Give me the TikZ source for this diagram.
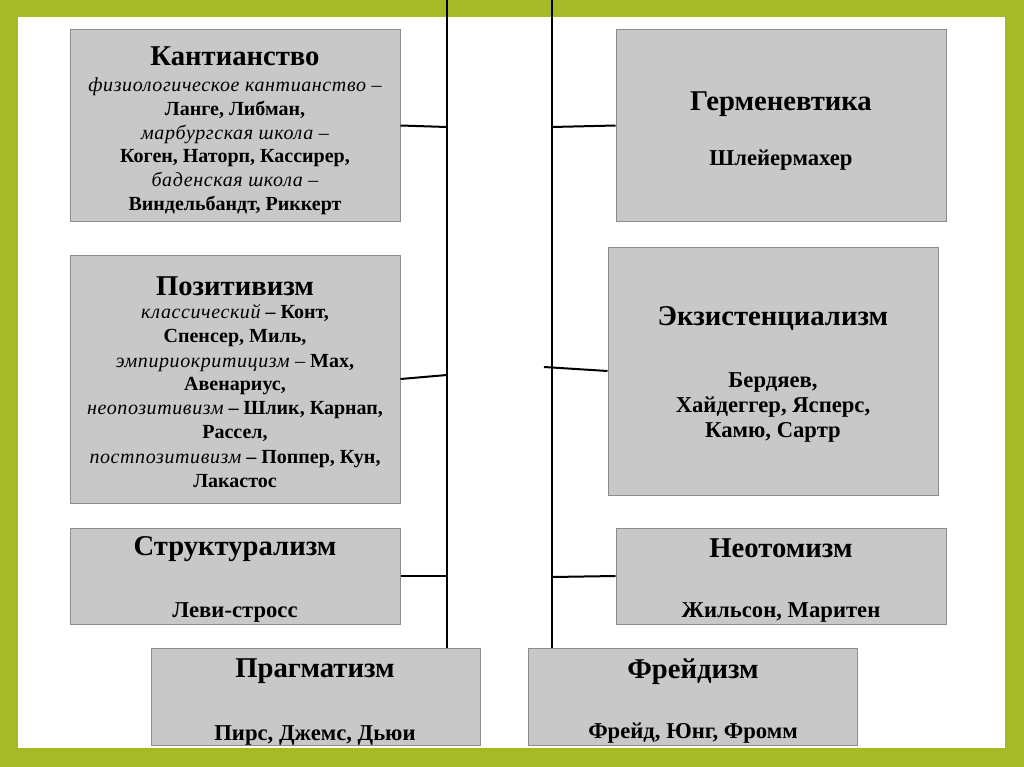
\documentclass[tikz,border=0pt]{standalone}
\usepackage{fontspec}
\setmainfont{Liberation Serif}
\newfontfamily\itfam[LetterSpace=3]{Liberation Serif}
\usetikzlibrary{fit}
\definecolor{framegreen}{RGB}{166,186,40}
\definecolor{boxfill}{RGB}{200,200,200}
\definecolor{boxline}{RGB}{140,140,140}
\tikzset{
  box/.style={draw=boxline, fill=boxfill, line width=0.75pt, inner sep=0pt},
  ttl/.style={anchor=base, inner sep=0pt, font=\fontsize{21.5}{25}\selectfont\bfseries},
  nmA/.style={anchor=base, inner sep=0pt, font=\fontsize{15}{18}\selectfont\bfseries},
  nmC/.style={anchor=base, inner sep=0pt, font=\fontsize{17}{20}\selectfont\bfseries},
  conn/.style={line width=1.5pt, black}
}
\newcommand{\itl}[1]{{\itfam\mdseries\itshape #1}}
\begin{document}
\begin{tikzpicture}[x=0.75pt, y=-0.75pt]
\useasboundingbox (0,0) rectangle (1024,767);
\fill[framegreen] (0,0) rectangle (1024,767);
\fill[white] (18,17) rectangle (1005,748);

% boxes
\node[box, fit={(70,30)(400,221)}] (kant) {};
\node[box, fit={(70,255)(400,503)}] (pos) {};
\node[box, fit={(70,528)(400,624)}] (str) {};
\node[box, fit={(151,648)(480,745)}] (prag) {};
\node[box, fit={(616,30)(946,221)}] (herm) {};
\node[box, fit={(608,247)(938,495)}] (exi) {};
\node[box, fit={(616,528)(946,624)}] (neo) {};
\node[box, fit={(528,648)(857,745)}] (freud) {};

% vertical lines
\coordinate (vl) at (447,0);
\coordinate (vr) at (552,0);
\draw[conn] (vl) -- (vl |- prag.north);
\draw[conn] (vr) -- (vr |- freud.north);

% junctions
\coordinate (jk) at (447,127);
\coordinate (jp) at (447,375);
\coordinate (js) at (447,576);
\coordinate (jh) at (552,127);
\coordinate (je) at (544,367);
\coordinate (jn) at (552,577);
\draw[conn] (kant.east) -- (jk);
\draw[conn] (pos.east) -- (jp);
\draw[conn] (str.east) -- (js);
\draw[conn] (jh) -- (herm.west);
\draw[conn] (je) -- (exi.west);
\draw[conn] (jn) -- (neo.west);

% Kantianstvo
\node[ttl] (kt) at (235,65) {Кантианство};
\node[nmA] (k1) at (235,92) {\itl{физиологическое кантианство –}};
\node[nmA] (k2) at (235,115) {Ланге, Либман,};
\node[nmA] (k3) at (235,139) {\itl{марбургская школа –}};
\node[nmA] (k4) at (235,162) {Коген, Наторп, Кассирер,};
\node[nmA] (k5) at (235,186) {\itl{баденская школа –}};
\node[nmA] (k6) at (235,210) {Виндельбандт, Риккерт};

% Positivism
\node[ttl] (pt) at (235,295) {Позитивизм};
\node[nmA] (p1) at (235,318) {\itl{классический} – Конт,};
\node[nmA] (p2) at (235,342) {Спенсер, Миль,};
\node[nmA] (p3) at (235,367) {\itl{эмпириокритицизм –} Мах,};
\node[nmA] (p4) at (235,390) {Авенариус,};
\node[nmA] (p5) at (235,414) {\itl{неопозитивизм} – Шлик, Карнап,};
\node[nmA] (p6) at (235,438) {Рассел,};
\node[nmA] (p7) at (235,463) {\itl{постпозитивизм} – Поппер, Кун,};
\node[nmA] (p8) at (235,487) {Лакастос};

% Structuralism
\node[ttl] (st) at (235,555) {Структурализм};
\node[nmC] (s1) at (235,617) {Леви-стросс};

% Pragmatism
\node[ttl] (prt) at (315,677) {Прагматизм};
\node[nmC] (pr1) at (315,740) {Пирс, Джемс, Дьюи};

% Hermeneutics
\node[ttl] (ht) at (781,110) {Герменевтика};
\node[nmC] (h1) at (781,165) {Шлейермахер};

% Existentialism
\node[ttl] (et) at (773,325) {Экзистенциализм};
\node[nmC] (e1) at (773,387) {Бердяев,};
\node[nmC] (e2) at (773,412) {Хайдеггер, Ясперс,};
\node[nmC] (e3) at (773,437) {Камю, Сартр};

% Neothomism
\node[ttl] (nt) at (781,557) {Неотомизм};
\node[nmC] (n1) at (781,617) {Жильсон, Маритен};

% Freudism
\node[ttl] (ft) at (693,678) {Фрейдизм};
\node[nmC] (f1) at (693,738) {Фрейд, Юнг, Фромм};
\end{tikzpicture}
\end{document}
